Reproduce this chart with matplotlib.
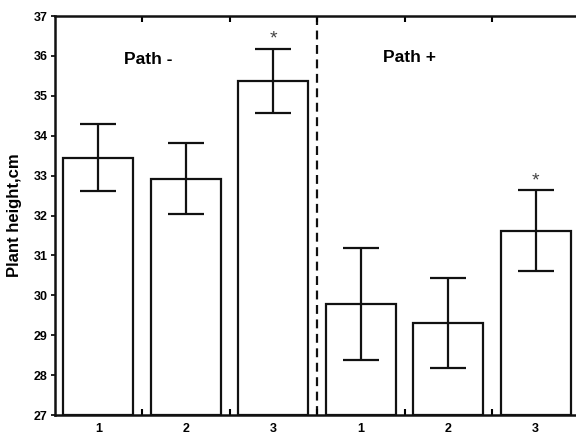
import numpy as np
import matplotlib
matplotlib.use("Agg")
import matplotlib.pyplot as plt

# plant height (cm) per treatment, Path - then Path +
groups = ["Path -", "Path +"]
labels = ["1", "2", "3", "1", "2", "3"]
means = [33.45, 32.92, 35.38, 29.78, 29.31, 31.61]
err_hi = [34.30, 33.82, 36.18, 31.19, 30.43, 32.64]
err_lo = [32.61, 32.05, 34.57, 28.39, 28.19, 30.61]
signif = [False, False, True, False, False, True]

plt.rcParams["font.family"] = ["Liberation Sans Narrow", "Liberation Sans", "DejaVu Sans"]

fig = plt.figure(figsize=(5.76, 4.36), dpi=100)
ax = fig.add_axes([54.5 / 576, 1 - 415 / 436, 525 / 576, 399 / 436])

x = np.arange(len(means))
means = np.array(means)
yerr = np.vstack([means - np.array(err_lo), np.array(err_hi) - means])

ax.bar(x, means - 27, bottom=27, width=0.8, color="white",
       edgecolor="#111111", linewidth=1.6, zorder=2)
ax.errorbar(x, means, yerr=yerr, fmt="none", ecolor="#111111",
            elinewidth=1.6, capsize=13, capthick=1.6, zorder=3)

for xi, hi, s in zip(x, err_hi, signif):
    if s:
        ax.text(xi, hi + 0.02, "*", ha="center", va="bottom",
                fontsize=14, color="#444444")

ax.axvline(2.5, color="#111111", linestyle=(0, (4, 2.5)), linewidth=1.6, zorder=1)

ax.text(0.57, 35.9, groups[0], ha="center", va="center",
        fontsize=12.5, fontweight="bold", family=["Liberation Sans", "DejaVu Sans"])
ax.text(3.56, 35.97, groups[1], ha="center", va="center",
        fontsize=12.5, fontweight="bold", family=["Liberation Sans", "DejaVu Sans"])

ax.set_xlim(-0.5, 5.5)
ax.set_ylim(27, 37)
ax.set_yticks(np.arange(27, 38, 1))
ax.set_xticks(x)
ax.set_xticklabels(labels)
ax.set_xticks(np.arange(0.5, 5.0, 1), minor=True)
ax.tick_params(axis="x", which="major", length=0, pad=6, labelsize=9)
ax.tick_params(axis="x", which="minor", direction="in", length=4, width=1.5,
               top=True, bottom=True)
ax.tick_params(axis="y", which="major", direction="out", length=3, width=1.2,
               labelsize=9, pad=2)
for lab in ax.get_xticklabels() + ax.get_yticklabels():
    lab.set_fontweight("bold")

for side in ["left", "top", "bottom"]:
    ax.spines[side].set_linewidth(1.8)
    ax.spines[side].set_color("#111111")
ax.spines["right"].set_visible(False)

ax.set_ylabel("Plant height,cm", fontsize=12, fontweight="bold",
              family=["Liberation Sans", "DejaVu Sans"], labelpad=8)

fig.savefig("out.png", dpi=100)
